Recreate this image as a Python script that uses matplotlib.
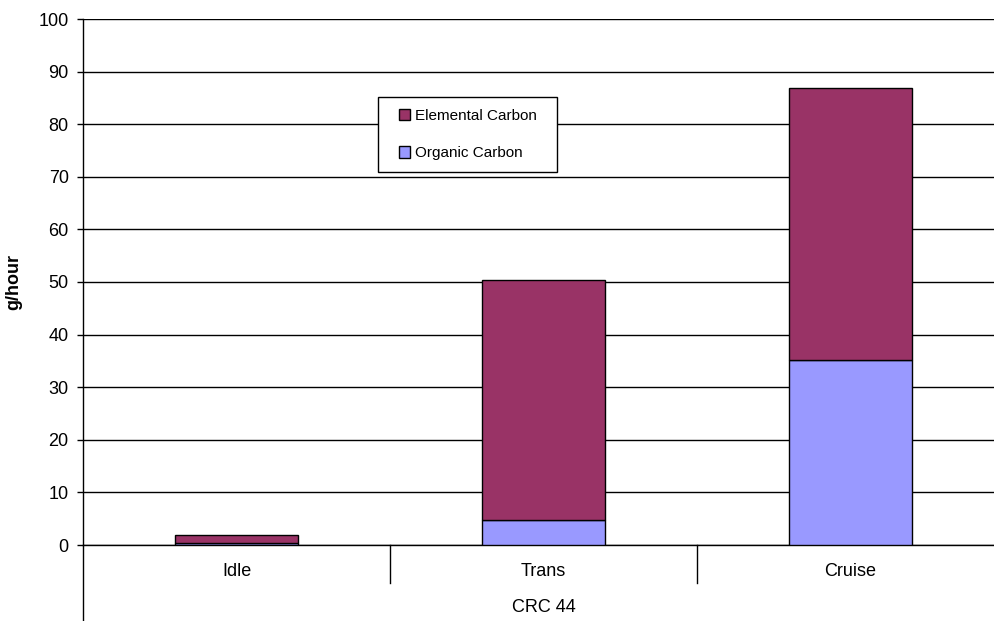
import matplotlib
matplotlib.use("Agg")
import matplotlib.pyplot as plt
from matplotlib.transforms import blended_transform_factory
from matplotlib.patches import Patch, Rectangle

categories = ["Idle", "Trans", "Cruise"]
organic = [0.3, 4.7, 35.2]
elemental = [1.6, 45.6, 51.6]
group_label = "CRC 44"
yticks = list(range(0, 101, 10))

c_elem = "#993366"
c_org = "#9999FF"

plt.rcParams['font.family'] = ['Liberation Sans', 'DejaVu Sans']

fig = plt.figure(figsize=(9.94, 6.21), dpi=100)
W, H = 994, 621
ax = fig.add_axes([83 / W, (H - 545) / H, 921 / W, (545 - 19) / H])

x = list(range(len(categories)))
ax.bar(x, organic, width=0.4, color=c_org, edgecolor="black", linewidth=1.0, zorder=3,
       label="Organic Carbon")
ax.bar(x, elemental, width=0.4, bottom=organic, color=c_elem, edgecolor="black",
       linewidth=1.0, zorder=3, label="Elemental Carbon")

ax.set_xlim(-0.5, len(categories) - 0.5)
ax.set_ylim(0, 100)
ax.set_yticks(yticks)
ax.yaxis.grid(True, color="black", linewidth=1.0, zorder=0)
ax.set_axisbelow(True)
ax.tick_params(axis="y", direction="out", length=4.3, width=1, labelsize=13, pad=6)
ax.set_xticks([])
for s in ["top", "right"]:
    ax.spines[s].set_visible(False)
ax.spines["left"].set_linewidth(1.0)
ax.spines["bottom"].set_linewidth(1.0)

ax.set_ylabel("g/hour", fontsize=13, fontweight="bold", labelpad=12)

trans = blended_transform_factory(ax.transData, ax.transAxes)
px = 1.0 / (545 - 19)
# category labels
for i, c in enumerate(categories):
    ax.text(i, -27 * px, c, transform=trans, ha="center", va="center", fontsize=13)
# separators
for b in [0.5, 1.5]:
    ax.plot([b, b], [0, -38 * px], transform=trans, color="black", linewidth=1.0, clip_on=False)
# left axis extension
ax.plot([-0.5, -0.5], [0, -80 * px], transform=trans, color="black", linewidth=1.0, clip_on=False)
ax.text(0.5, -62 * px, group_label, transform=ax.transAxes, ha="center", va="center", fontsize=13)

# legend frame (pixel box 378..557 x 97..172)
frame = Rectangle((378 / W, (H - 172) / H), (557 - 378) / W, (172 - 97) / H,
                  transform=fig.transFigure, facecolor="white", edgecolor="black",
                  linewidth=1.0, zorder=5)
fig.patches.append(frame)
handles = [Patch(facecolor=c_elem, edgecolor="black", label="Elemental Carbon"),
           Patch(facecolor=c_org, edgecolor="black", label="Organic Carbon")]
leg = fig.legend(handles=handles, loc="center left",
                 bbox_to_anchor=(399 / W, (H - 134.5) / H),
                 fontsize=11, frameon=False,
                 handlelength=0.75, handleheight=0.75, handletextpad=0.3,
                 labelspacing=1.55, borderpad=0, borderaxespad=0)
leg.set_zorder(6)

fig.savefig("out.png", dpi=100)
